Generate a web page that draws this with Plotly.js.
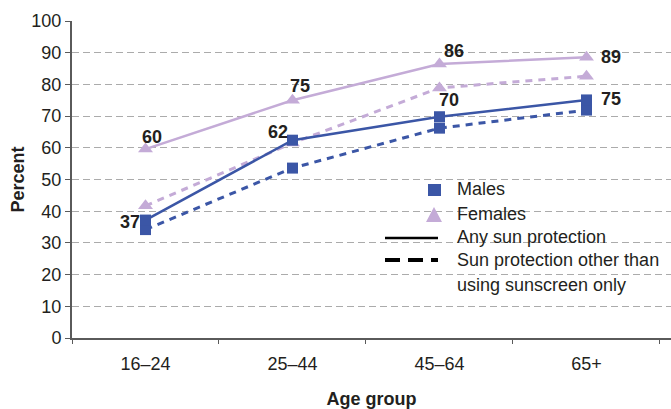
<!DOCTYPE html>
<html>
<head>
<meta charset="utf-8">
<script src="https://cdn.plot.ly/plotly-3.0.1.min.js"></script>
<style>html,body{margin:0;padding:0;background:#fff;}#chart{width:671px;height:409px;}</style>
</head>
<body>
<div id="chart"></div>
<script>
// ---- Data ----
var ageGroups = ["16–24", "25–44", "45–64", "65+"];
var malesAny = [37.2, 62.4, 69.8, 75.1];
var femalesAny = [59.6, 75.0, 86.4, 88.6];
var malesOther = [34.2, 53.6, 66.2, 71.9];
var femalesOther = [41.7, 61.5, 78.9, 82.6];
var yTicks = [0, 10, 20, 30, 40, 50, 60, 70, 80, 90, 100];

// ---- Styles ----
var BLUE = "#3B56A6";
var LAV = "#C4ABD7";
var TXT = "#231F20";
var FONT = "Liberation Sans, Arial, sans-serif";
// value-label offsets in pixels (styling only)
var femShift = [[6, 12], [8, 14], [15, 13], [25, 0]];
var maleShift = [[-16, -2], [-14, 8], [10, 17], [25, 1]];

// plot area in pixels (for custom legend placement)
var PL = 72, PR = 671, PT = 21, PB = 338;
function px(x){ return (x - PL) / (PR - PL); }
function py(y){ return (PB - y) / (PB - PT); }

var traces = [
  {x: ageGroups, y: femalesOther, mode: "lines+markers", type: "scatter",
   line: {color: LAV, width: 3, dash: "7px,6px"},
   marker: {symbol: "triangle-up", size: 13, color: LAV}, showlegend: false, hoverinfo: "skip"},
  {x: ageGroups, y: malesOther, mode: "lines+markers", type: "scatter",
   line: {color: BLUE, width: 3, dash: "7px,6px"},
   marker: {symbol: "square", size: 11, color: BLUE}, showlegend: false, hoverinfo: "skip"},
  {x: ageGroups, y: femalesAny, mode: "lines+markers", type: "scatter",
   line: {color: LAV, width: 2.5},
   marker: {symbol: "triangle-up", size: 13, color: LAV},
   showlegend: false, hoverinfo: "skip"},
  {x: ageGroups, y: malesAny, mode: "lines+markers", type: "scatter",
   line: {color: BLUE, width: 2.5},
   marker: {symbol: "square", size: 11, color: BLUE},
   showlegend: false, hoverinfo: "skip"}
];

var annotations = [];
function addLabels(vals, shifts){
  vals.forEach(function(v, i){
    annotations.push({x: ageGroups[i], y: v, xref: "x", yref: "y",
      text: String(Math.round(v)), showarrow: false,
      xanchor: "center", yanchor: "middle", xshift: shifts[i][0], yshift: shifts[i][1],
      font: {family: FONT, size: 18, color: TXT, weight: "bold"}});
  });
}
addLabels(femalesAny, femShift);
addLabels(malesAny, maleShift);

// custom legend
var legText = [
  {t: "Males", y: 189},
  {t: "Females", y: 214},
  {t: "Any sun protection", y: 237},
  {t: "Sun protection other than", y: 260},
  {t: "using sunscreen only", y: 285}
];
legText.forEach(function(d){
  annotations.push({xref: "paper", yref: "paper", x: px(455), y: py(d.y), xanchor: "left", yanchor: "middle",
          text: d.t, showarrow: false, font: {family: FONT, size: 18, color: TXT}});
});
var shapes = [
  {type: "rect", xref: "paper", yref: "paper", x0: px(428), x1: px(441), y0: py(196), y1: py(184),
   fillcolor: BLUE, line: {width: 0}},
  {type: "path", xref: "paper", yref: "paper",
   path: "M " + px(426) + " " + py(222) + " L " + px(442) + " " + py(222) + " L " + px(434) + " " + py(207) + " Z",
   fillcolor: LAV, line: {width: 0}},
  {type: "line", xref: "paper", yref: "paper", x0: px(385), x1: px(438), y0: py(238), y1: py(238),
   line: {color: "#000", width: 2.5}},
  {type: "line", xref: "paper", yref: "paper", x0: px(385), x1: px(438), y0: py(260), y1: py(260),
   line: {color: "#000", width: 4, dash: "15px,8px"}}
];

var layout = {
  width: 671, height: 409,
  margin: {l: PL, r: 671 - PR, t: PT, b: 409 - PB, pad: 0},
  paper_bgcolor: "#fff", plot_bgcolor: "#fff",
  font: {family: FONT, size: 18, color: TXT},
  showlegend: false,
  xaxis: {
    type: "category", range: [-0.5, 3.575], tickson: "boundaries",
    showline: true, linecolor: "#5A5A5A", linewidth: 2,
    ticks: "outside", ticklen: 4, tickcolor: "#5A5A5A", tickwidth: 1,
    ticklabelstandoff: 8,
    showgrid: false, zeroline: false,
    tickfont: {family: FONT, size: 18, color: TXT},
    title: {text: "Age group", font: {family: FONT, size: 18, color: TXT, weight: "bold"}, standoff: 22}
  },
  yaxis: {
    range: [0, 100], tickvals: yTicks, ticktext: yTicks.map(String),
    showline: true, linecolor: "#5A5A5A", linewidth: 2,
    ticks: "outside", ticklen: 5, tickcolor: "#5A5A5A", tickwidth: 1,
    showgrid: true, gridcolor: "#ABABAB", gridwidth: 1, griddash: "7px,4px",
    zeroline: false,
    tickfont: {family: FONT, size: 18, color: TXT},
    title: {text: "Percent", font: {family: FONT, size: 18, color: TXT, weight: "bold"}, standoff: 2}
  },
  annotations: annotations,
  shapes: shapes
};

Plotly.newPlot("chart", traces, layout, {displayModeBar: false, staticPlot: true});
</script>
</body>
</html>
